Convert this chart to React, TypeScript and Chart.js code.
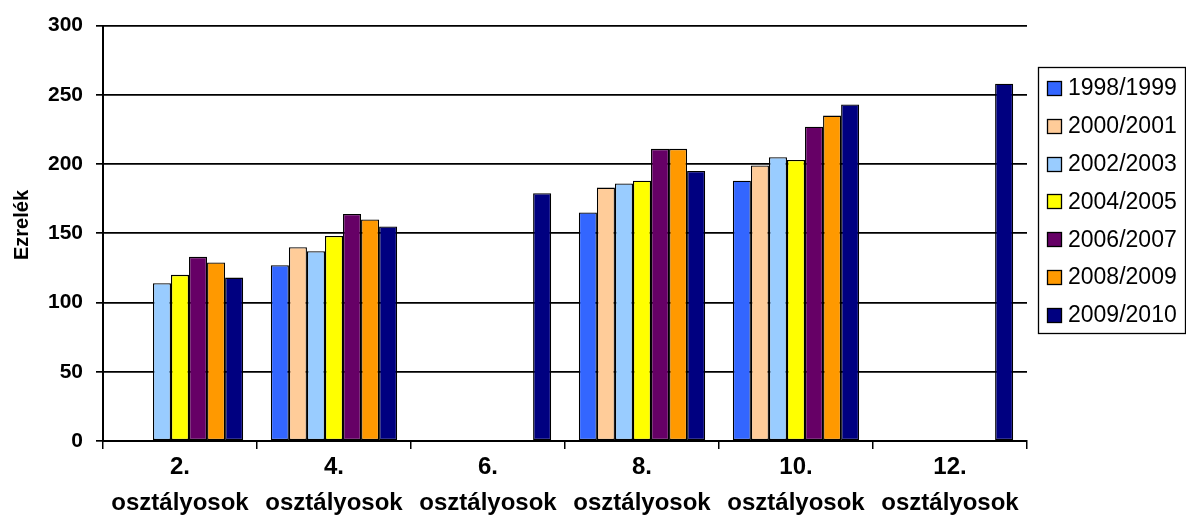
import React, { useEffect, useRef } from "react";
import { Chart, registerables } from "chart.js";

Chart.register(...registerables);

const grades = ["2.", "4.", "6.", "8.", "10.", "12."];
const gradeSuffix = "osztályosok";
const seriesNames = ["1998/1999", "2000/2001", "2002/2003", "2004/2005", "2006/2007", "2008/2009", "2009/2010"];
const v1998 = [null, 127, null, 165, 188, null];
const v2000 = [null, 140, null, 183, 199, null];
const v2002 = [114, 137, null, 186, 205, null];
const v2004 = [120, 148, null, 188, 203, null];
const v2006 = [133, 164, null, 211, 227, null];
const v2008 = [129, 160, null, 211, 235, null];
const v2009 = [118, 155, 179, 195, 243, 258];
const seriesColors = ["#3366FF", "#FFCC99", "#99CCFF", "#FFFF00", "#660066", "#FF9900", "#000080"];
const yMin = 0;
const yMax = 300;
const yStep = 50;
const yTitle = "Ezrelék";

const FONT = "'Liberation Sans', Arial, sans-serif";

const boxLegend = {
  id: "boxLegend",
  afterDraw(chart: any) {
    const ctx = chart.ctx;
    const x0 = 1038.5;
    const y0 = 67.5;
    const w = 147;
    const h = 266;
    ctx.save();
    ctx.strokeStyle = "#000";
    ctx.lineWidth = 1.3;
    ctx.strokeRect(x0, y0, w, h);
    ctx.font = `23px ${FONT}`;
    ctx.textBaseline = "middle";
    ctx.textAlign = "left";
    chart.data.datasets.forEach((ds: any, i: number) => {
      const cy = 88 + i * 37.8;
      const sy = Math.round(cy - 7) + 0.5;
      ctx.fillStyle = ds.backgroundColor;
      ctx.fillRect(1047.5, sy, 14, 14);
      ctx.strokeStyle = "#000";
      ctx.lineWidth = 1.3;
      ctx.strokeRect(1047.5, sy, 14, 14);
      ctx.fillStyle = "#000";
      ctx.fillText(ds.label, 1068, cy + 1);
    });
    ctx.restore();
  },
};

const axisTitle = {
  id: "axisTitle",
  afterDraw(chart: any) {
    const ctx = chart.ctx;
    ctx.save();
    ctx.translate(22, 225);
    ctx.rotate(-Math.PI / 2);
    ctx.font = `bold 20px ${FONT}`;
    ctx.fillStyle = "#000";
    ctx.textAlign = "center";
    ctx.textBaseline = "middle";
    ctx.fillText(yTitle, 0, 0);
    ctx.restore();
  },
};

export default function App() {
  const ref = useRef<HTMLCanvasElement>(null);
  useEffect(() => {
    if (!ref.current) return;
    const series = [v1998, v2000, v2002, v2004, v2006, v2008, v2009];
    const chart = new Chart(ref.current, {
      type: "bar",
      data: {
        labels: grades.map((g) => [g, gradeSuffix]),
        datasets: series.map((d, i) => ({
          label: seriesNames[i],
          data: d,
          backgroundColor: seriesColors[i],
          borderColor: "#000",
          borderWidth: 1.3,
          borderSkipped: false,
          categoryPercentage: 0.82,
          barPercentage: 1,
        })),
      },
      options: {
        animation: false,
        responsive: false,
        layout: { padding: { top: 25, right: 159, left: 0, bottom: 0 } },
        plugins: { legend: { display: false }, tooltip: { enabled: false } },
        scales: {
          x: {
            grid: { display: true, drawOnChartArea: false, drawTicks: true, tickLength: 8, color: "#000", lineWidth: 1.5, offset: true },
            border: { display: true, color: "#000", width: 2 },
            ticks: { color: "#000", font: { family: FONT, size: 24, weight: "bold", lineHeight: 1.5 }, padding: 0, maxRotation: 0, autoSkip: false },
            afterFit: (s: any) => { s.height = 82; },
          },
          y: {
            min: yMin,
            max: yMax,
            ticks: { stepSize: yStep, color: "#000", font: { family: FONT, size: 21, weight: "bold" }, padding: 13 },
            grid: { color: "#000", lineWidth: 1.7, drawTicks: true, tickLength: 7, tickColor: "#000" },
            border: { display: true, color: "#000", width: 2 },
            title: { display: false },
            afterFit: (s: any) => { s.width = 103; },
          },
        },
      },
      plugins: [boxLegend, axisTitle],
    });
    return () => chart.destroy();
  }, []);
  return (
    <div style={{ position: "absolute", left: 0, top: 0, width: 1186, height: 523, background: "#fff" }}>
      <canvas ref={ref} width={1186} height={523} style={{ width: 1186, height: 523 }} />
    </div>
  );
}
